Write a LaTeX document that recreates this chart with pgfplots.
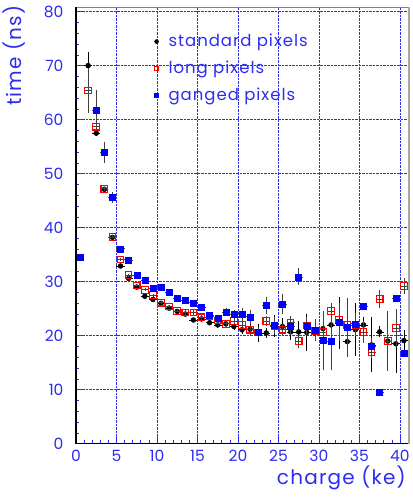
\documentclass[border=0pt]{standalone}
\usepackage{fontspec}
\setmainfont{Poppins}
\newfontfamily\labelfont[LetterSpace=6]{Poppins}
\usepackage{pgfplots}
\usepackage{pgfplotstable}
\pgfplotsset{compat=1.18}
\definecolor{rootblue}{RGB}{45,45,240}
\definecolor{mkblue}{RGB}{0,0,255}
\definecolor{mkred}{RGB}{255,0,0}

\pgfplotstableread{
x y e
1.5 70.0 2.6
2.5 57.5 0.6
3.5 47.1 0.4
4.5 38.2 0.3
5.5 32.9 0.3
6.5 30.6 0.3
7.5 29.0 0.3
8.5 27.3 0.3
9.5 26.7 0.3
10.5 26.0 0.3
11.5 25.1 0.3
12.5 24.5 0.3
13.5 24.0 0.4
14.5 22.9 0.4
15.5 23.1 0.4
16.5 22.4 0.5
17.5 22.0 0.5
18.5 22.2 0.6
19.5 21.7 0.7
20.5 21.1 0.8
21.5 21.2 1.0
22.5 20.5 1.7
23.5 20.5 1.0
24.5 21.8 2.0
25.5 21.7 1.5
26.5 20.7 1.5
27.5 20.7 2.0
28.5 20.6 3.5
29.5 20.5 1.5
30.5 21.3 2.0
31.5 22.0 3.0
32.5 22.3 4.8
33.5 18.9 2.2
34.5 21.1 4.9
35.5 22.0 1.5
36.5 18.3 5.1
37.5 20.7 1.0
38.5 19.0 2.0
39.5 18.5 5.5
40.5 19.1 2.0
}\tabstd

\pgfplotstableread{
x y e
1.5 65.4 4.2
2.5 58.7 0.8
3.5 47.2 0.4
4.5 38.3 0.3
5.5 34.1 0.3
6.5 31.2 0.3
7.5 29.3 0.3
8.5 28.5 0.3
9.5 27.5 0.3
10.5 26.1 0.3
11.5 25.4 0.3
12.5 24.6 0.3
13.5 24.3 0.4
14.5 24.3 0.4
15.5 23.4 0.5
16.5 23.6 0.5
17.5 22.8 0.6
18.5 22.2 0.6
19.5 22.7 0.7
20.5 22.0 0.8
21.5 21.1 0.9
22.5 20.6 1.0
23.5 22.7 1.0
24.5 21.7 1.2
25.5 21.1 1.0
26.5 22.4 1.2
27.5 19.0 1.2
28.5 21.9 1.5
29.5 20.9 1.2
30.5 20.7 2.0
31.5 24.6 1.5
32.5 23.0 2.0
33.5 22.0 1.5
34.5 22.0 2.0
35.5 20.7 2.0
36.5 16.9 1.0
37.5 26.8 1.6
38.5 19.0 5.5
39.5 21.4 3.5
40.5 29.2 1.5
}\tablong

\pgfplotstableread{
x y e
0.5 34.5 0.3
2.5 61.8 3.7
3.5 53.9 1.9
4.5 45.6 1.0
5.5 36.1 0.5
6.5 34.0 0.4
7.5 31.2 0.4
8.5 30.3 0.4
9.5 28.7 0.4
10.5 29.0 0.4
11.5 28.0 0.5
12.5 26.9 0.5
13.5 26.5 0.5
14.5 26.1 0.5
15.5 25.3 0.6
16.5 23.8 0.6
17.5 23.2 0.7
18.5 24.4 0.8
19.5 24.0 0.8
20.5 24.0 1.2
21.5 23.5 1.3
22.5 20.6 1.0
23.5 25.6 1.5
24.5 21.9 1.5
25.5 25.9 1.8
26.5 21.7 1.5
27.5 30.9 1.6
28.5 21.7 1.5
29.5 21.0 2.0
30.5 19.1 5.5
31.5 19.0 5.4
32.5 22.5 3.5
33.5 21.5 5.4
34.5 22.2 2.0
35.5 25.4 0.5
36.5 18.0 1.5
37.5 9.6 0.3
39.5 26.9 0.5
40.5 16.7 0.5
}\tabgang

\begin{document}
\begin{tikzpicture}[x=1pt,y=1pt]
\useasboundingbox (-76,-56.3) rectangle (336,443.7);
\begin{axis}[
  at={(0,0)}, anchor=south west,
  scale only axis, width=332pt, height=436.4pt,
  xmin=0, xmax=41, ymin=0, ymax=80.8,
  xtick={0,5,...,40}, ytick={0,10,...,80},
  minor x tick num=4, minor y tick num=4,
  tick align=inside, tick pos=left,
  major tick length=7pt, minor tick length=3.5pt,
  every tick/.style={rootblue, line width=0.6pt},
  grid=major,
  major grid style={rootblue, densely dotted, line width=0.7pt},
  axis line style={gray, line width=0.6pt},
  clip mode=individual,
  /pgf/number format/assume math mode=true,
  tick label style={font=\fontsize{15.5}{15.5}\selectfont, text=rootblue},
  xticklabel style={yshift=-3pt},
  yticklabel style={xshift=-9pt},
  xlabel={charge (ke)},
  ylabel={time (ns)},
  label style={font=\labelfont\fontsize{20}{20}\selectfont, text=rootblue, inner sep=0pt},
  xlabel style={at={(rel axis cs:0.994,-0.0786)}, anchor=east},
  ylabel style={at={(rel axis cs:-0.187,1.005)}, anchor=east},
  legend style={at={(rel axis cs:0.236,0.938)}, anchor=north west, draw=none, fill=none,
    font=\labelfont\fontsize{16.5}{16.5}\selectfont, text=rootblue, row sep=11pt, inner sep=0pt,
    nodes={inner sep=0pt, text height=12pt, text depth=4pt},
    /tikz/every odd column/.append style={column sep=10pt}},
  legend cell align=left,
  legend image code/.code={\draw[#1, mark size=2pt] plot coordinates {(0pt,1pt)};},
]
\addplot[only marks, mark=*, mark size=2.5pt, black, mark options={fill=black},
  error bars/.cd, y dir=both, y explicit, x dir=both, x fixed=0.5,
  error bar style={black, line width=0.6pt}, error mark=none]
  table[x=x, y=y, y error=e] {\tabstd};
\addlegendentry{standard pixels}
\addplot[only marks, mark=square, mark size=3.3pt, mkred, mark options={draw=mkred, fill=none, line width=1.1pt},
  error bars/.cd, y dir=both, y explicit, x dir=both, x fixed=0.5,
  error bar style={black!75, line width=0.6pt}, error mark=none]
  table[x=x, y=y, y error=e] {\tablong};
\addlegendentry{long pixels}
\addplot[only marks, mark=square*, mark size=3pt, mkblue, mark options={fill=mkblue},
  error bars/.cd, y dir=both, y explicit, x dir=both, x fixed=0.5,
  error bar style={black!75, line width=0.6pt}, error mark=none]
  table[x=x, y=y, y error=e] {\tabgang};
\addlegendentry{ganged pixels}
\draw[gray!70, line width=2.5pt] (rel axis cs:1,0) ++(1pt,0) -- ++(0,436.4pt);
\draw[black, line width=1.3pt] (rel axis cs:0,0) -- (rel axis cs:0,1);
\draw[black, line width=1.3pt] (rel axis cs:0,0) -- (rel axis cs:1,0);
\end{axis}
\end{tikzpicture}
\end{document}
